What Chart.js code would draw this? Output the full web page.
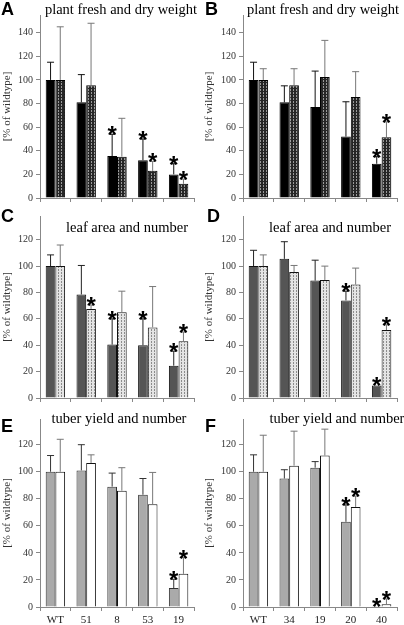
<!DOCTYPE html>
<html lang="en">
<head>
  <meta charset="UTF-8" />
  <title>Transgenic lines - growth parameters</title>
  <style>
    body { margin: 0; background: #fff; }
    .wrap { position: relative; width: 404px; height: 625px; }
    canvas { position: absolute; }
  </style>
</head>
<body>
  <div class="wrap">
    <canvas id="chartA" width="202" height="207" style="left:0;top:0"></canvas>
    <canvas id="chartB" width="202" height="207" style="left:202px;top:0"></canvas>
    <canvas id="chartC" width="202" height="200" style="left:0;top:207px"></canvas>
    <canvas id="chartD" width="202" height="200" style="left:202px;top:207px"></canvas>
    <canvas id="chartE" width="202" height="215" style="left:0;top:410px"></canvas>
    <canvas id="chartF" width="202" height="215" style="left:202px;top:410px"></canvas>
  </div>

  <script src="https://cdn.jsdelivr.net/npm/chart.js"></script>
  <script>
    // lines (left column / right column)
    const linesLeft = ['WT', '51', '8', '53', '19'];
    const linesRight = ['WT', '34', '19', '20', '40'];

    // A: plant fresh and dry weight (left lines)
    const aFresh = [100, 81, 35.5, 32, 20];
    const aFreshSd = [15, 23.5, 18.5, 18, 9];
    const aFreshSig = [0, 0, 1, 1, 1];
    const aDry = [100, 95.5, 35, 23, 12];
    const aDrySd = [45, 52.5, 32.5, 8, 4];
    const aDrySig = [0, 0, 0, 1, 1];

    // B: plant fresh and dry weight (right lines)
    const bFresh = [100, 81, 77, 52, 29];
    const bFreshSd = [15, 14, 30.5, 29.5, 6];
    const bFreshSig = [0, 0, 0, 0, 1];
    const bDry = [100, 95.5, 102.5, 85.5, 51.5];
    const bDrySd = [9.5, 14, 31, 21.5, 13];
    const bDrySig = [0, 0, 0, 0, 1];

    // C: leaf area and number (left lines)
    const cArea = [100, 78.5, 40.5, 40, 24.5];
    const cAreaSd = [8.5, 22, 19.5, 20, 11];
    const cAreaSig = [0, 0, 1, 1, 1];
    const cNum = [100, 67.5, 65, 53.5, 43];
    const cNumSd = [16, 3, 16, 31, 7];
    const cNumSig = [0, 1, 0, 0, 1];

    // D: leaf area and number (right lines)
    const dArea = [100, 105.5, 89, 74, 9.5];
    const dAreaSd = [12, 13, 15.5, 7, 0];
    const dAreaSig = [0, 0, 0, 1, 1];
    const dNum = [100, 95.5, 89.5, 86, 51.5];
    const dNumSd = [8.5, 5, 10.5, 12.5, 4];
    const dNumSig = [0, 0, 0, 0, 1];

    // E: tuber yield and number (left lines)
    const eYield = [100, 101, 89, 83, 14];
    const eYieldSd = [12, 19, 10, 12, 6.5];
    const eYieldSig = [0, 0, 0, 0, 1];
    const eNum = [100, 106.5, 86, 76, 24.5];
    const eNumSd = [24, 6, 17, 23.5, 12];
    const eNumSig = [0, 0, 0, 0, 1];

    // F: tuber yield and number (right lines)
    const fYield = [100, 95, 103, 63, 0.5];
    const fYieldSd = [12.5, 6.5, 4.5, 12.5, 0];
    const fYieldSig = [0, 0, 0, 1, 1];
    const fNum = [100, 104.5, 112, 74, 2];
    const fNumSd = [27, 25.5, 19.5, 8, 4];
    const fNumSig = [0, 0, 0, 1, 1];

    const serif = "'Liberation Serif', 'Times New Roman', serif";

    // small fill textures for the second series
    function texture(base, dot) {
      const c = document.createElement('canvas');
      c.width = 3; c.height = 3;
      const g = c.getContext('2d');
      g.fillStyle = base; g.fillRect(0, 0, 3, 3);
      g.fillStyle = dot;
      g.fillRect(1, 0, 1, 1);
      g.fillRect(1, 2, 1, 1);
      return g.createPattern(c, 'repeat');
    }
    const darkTex = texture('#262626', '#9a9a9a');
    const lightTex = texture('#e4e4e4', '#8c8c8c');

    // error bars, asterisks, panel letter and title
    const deco = {
      id: 'deco',
      afterDatasetsDraw(chart) {
        const ctx = chart.ctx, y = chart.scales.y;
        chart.data.datasets.forEach((ds, di) => {
          chart.getDatasetMeta(di).data.forEach((bar, i) => {
            const top = y.getPixelForValue(ds.data[i] + ds.sd[i]);
            ctx.save();
            if (ds.sd[i] > 0) {
              ctx.strokeStyle = ds.errColor;
              ctx.lineWidth = 1;
              ctx.beginPath();
              ctx.moveTo(bar.x, bar.y);
              ctx.lineTo(bar.x, top);
              ctx.moveTo(bar.x - 3.5, top);
              ctx.lineTo(bar.x + 3.5, top);
              ctx.stroke();
            }
            if (ds.sig[i]) {
              ctx.fillStyle = '#000';
              ctx.font = 'bold 24px Arial, sans-serif';
              ctx.textAlign = 'center';
              ctx.textBaseline = 'alphabetic';
              ctx.fillText('*', bar.x, top + 9);
            }
            ctx.restore();
          });
        });
      },
      afterDraw(chart, args, o) {
        const ctx = chart.ctx;
        ctx.save();
        ctx.fillStyle = '#000';
        ctx.textBaseline = 'alphabetic';
        ctx.font = "bold 18px 'Liberation Sans', Arial, sans-serif";
        ctx.textAlign = 'left';
        ctx.fillText(o.letter, o.lx, o.ly);
        ctx.font = '14.5px ' + serif;
        ctx.textAlign = 'center';
        ctx.fillText(o.title, o.tx, o.ty);
        ctx.restore();
      }
    };

    function panel(id, cfg) {
      const ds = cfg.series.map(s => ({
        data: s.data, sd: s.sd, sig: s.sig, errColor: s.err,
        backgroundColor: s.fill, borderColor: s.border, borderWidth: 1,
        categoryPercentage: 0.63, barPercentage: 1.0
      }));
      new Chart(document.getElementById(id), {
        type: 'bar',
        data: { labels: cfg.labels, datasets: ds },
        options: {
          responsive: false,
          animation: false,
          devicePixelRatio: 1,
          layout: { padding: { top: cfg.padTop, right: cfg.padRight, left: 0, bottom: 0 } },
          plugins: {
            legend: { display: false },
            tooltip: { enabled: false },
            deco: cfg.deco
          },
          scales: {
            y: {
              min: 0, max: cfg.max,
              ticks: { stepSize: 20, color: '#333', font: { family: serif, size: 10 }, padding: 3 },
              grid: { drawOnChartArea: false, tickLength: 4, color: '#888' },
              border: { color: '#888' },
              title: { display: true, text: '[% of wildtype]', color: '#333', font: { family: serif, size: 11 }, padding: { top: 1, bottom: 0 } },
              afterBuildTicks: s => { s.ticks = s.ticks.filter(t => t.value % 20 === 0); },
              afterFit: s => { s.width = cfg.axisW; }
            },
            x: {
              ticks: { display: cfg.showLabels, color: '#222', font: { family: serif, size: 11 }, padding: 3 },
              grid: { drawOnChartArea: false, tickLength: 4, color: '#888', offset: true },
              border: { color: '#888' },
              afterFit: s => { s.height = cfg.xH; }
            }
          }
        },
        plugins: [deco]
      });
    }

    panel('chartA', {
      labels: linesLeft, max: 155, padTop: 15, padRight: 8, axisW: 40, xH: 7, showLabels: false,
      deco: { letter: 'A', lx: 1, ly: 15, title: 'plant fresh and dry weight', tx: 121, ty: 14 },
      series: [
        { data: aFresh, sd: aFreshSd, sig: aFreshSig, fill: '#000', border: '#000', err: '#111' },
        { data: aDry, sd: aDrySd, sig: aDrySig, fill: darkTex, border: '#000', err: '#777' }
      ]
    });
    panel('chartB', {
      labels: linesRight, max: 155, padTop: 15, padRight: 7, axisW: 41, xH: 7, showLabels: false,
      deco: { letter: 'B', lx: 3, ly: 15, title: 'plant fresh and dry weight', tx: 121, ty: 14 },
      series: [
        { data: bFresh, sd: bFreshSd, sig: bFreshSig, fill: '#000', border: '#000', err: '#111' },
        { data: bDry, sd: bDrySd, sig: bDrySig, fill: darkTex, border: '#000', err: '#777' }
      ]
    });
    panel('chartC', {
      labels: linesLeft, max: 138, padTop: 6, padRight: 8, axisW: 40, xH: 5, showLabels: false,
      deco: { letter: 'C', lx: 1, ly: 15, title: 'leaf area and number', tx: 127, ty: 25 },
      series: [
        { data: cArea, sd: cAreaSd, sig: cAreaSig, fill: '#555', border: '#111', err: '#222' },
        { data: cNum, sd: cNumSd, sig: cNumSig, fill: lightTex, border: '#111', err: '#777' }
      ]
    });
    panel('chartD', {
      labels: linesRight, max: 138, padTop: 6, padRight: 7, axisW: 41, xH: 5, showLabels: false,
      deco: { letter: 'D', lx: 5, ly: 15, title: 'leaf area and number', tx: 128, ty: 25 },
      series: [
        { data: dArea, sd: dAreaSd, sig: dAreaSig, fill: '#555', border: '#111', err: '#222' },
        { data: dNum, sd: dNumSd, sig: dNumSig, fill: lightTex, border: '#111', err: '#777' }
      ]
    });
    panel('chartE', {
      labels: linesLeft, max: 139, padTop: 7, padRight: 8, axisW: 40, xH: 18, showLabels: true,
      deco: { letter: 'E', lx: 1, ly: 22, title: 'tuber yield and number', tx: 119, ty: 13 },
      series: [
        { data: eYield, sd: eYieldSd, sig: eYieldSig, fill: '#aaa', border: '#333', err: '#333' },
        { data: eNum, sd: eNumSd, sig: eNumSig, fill: '#fff', border: '#111', err: '#777' }
      ]
    });
    panel('chartF', {
      labels: linesRight, max: 139, padTop: 7, padRight: 7, axisW: 41, xH: 18, showLabels: true,
      deco: { letter: 'F', lx: 3, ly: 22, title: 'tuber yield and number', tx: 135, ty: 13 },
      series: [
        { data: fYield, sd: fYieldSd, sig: fYieldSig, fill: '#aaa', border: '#333', err: '#333' },
        { data: fNum, sd: fNumSd, sig: fNumSig, fill: '#fff', border: '#111', err: '#777' }
      ]
    });
  </script>
</body>
</html>
